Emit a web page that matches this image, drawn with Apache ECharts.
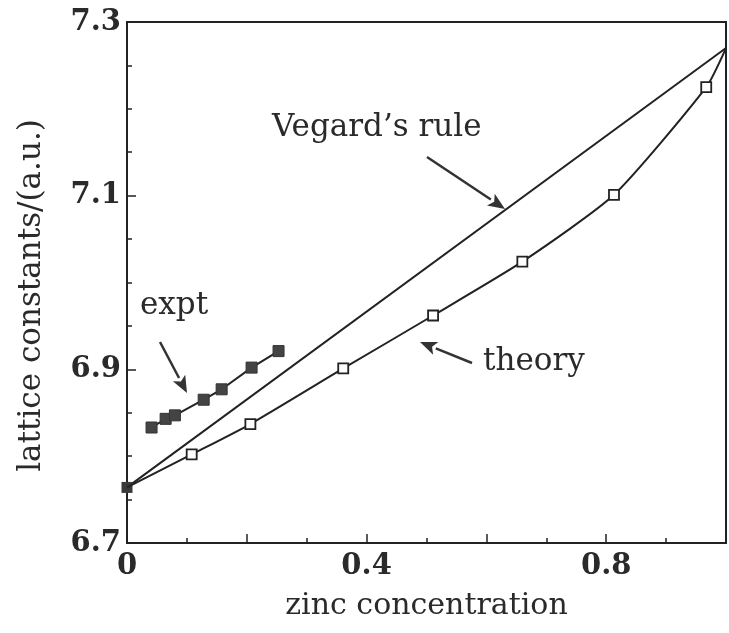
<!DOCTYPE html>
<html>
<head>
<meta charset="utf-8">
<script src="https://cdn.jsdelivr.net/npm/echarts@6/dist/echarts.min.js"></script>
<style>
  html, body { margin: 0; padding: 0; background: #fff; }
  #chart { width: 729px; height: 633px; }
</style>
</head>
<body>
<div id="chart"></div>
<script>
// data
var theoryX = [0, 0.108, 0.206, 0.361, 0.511, 0.660, 0.813, 0.967, 1.0];
var theoryY = [6.764, 6.802, 6.837, 6.901, 6.962, 7.024, 7.101, 7.225, 7.27];
var exptX = [0.041, 0.0645, 0.080, 0.128, 0.158, 0.208, 0.253];
var exptY = [6.833, 6.843, 6.847, 6.865, 6.877, 6.902, 6.921];
var vegardX = [0, 1.0];
var vegardY = [6.764, 7.27];
var yLabels = [6.7, 6.9, 7.1, 7.3];
var yMajorTicks = [6.9, 7.1];
var xLabels = [0, 0.4, 0.8];

var ink = "#222";
var serif = "DejaVu Serif";

function pairs(xs, ys) {
  return xs.map(function (x, i) { return [x, ys[i]]; });
}

// arrow for annotations: line + triangle head at tip
function arrow(x1, y1, x2, y2) {
  var dx = x2 - x1, dy = y2 - y1;
  var len = Math.sqrt(dx * dx + dy * dy);
  var ux = dx / len, uy = dy / len;
  var hl = 17, hw = 7;
  var bx = x2 - ux * hl, by = y2 - uy * hl;
  return {
    type: "group",
    children: [
      { type: "line", shape: { x1: x1, y1: y1, x2: bx, y2: by },
        style: { stroke: "#333", lineWidth: 2.5 } },
      { type: "polygon",
        shape: { points: [[x2, y2], [bx - uy * hw, by + ux * hw], [bx + ux * 4, by + uy * 4], [bx + uy * hw, by - ux * hw]] },
        style: { fill: "#333" } }
    ]
  };
}

function note(text, x, y) {
  return {
    type: "text", x: x, y: y,
    style: { text: text, font: "31px '" + serif + "'", fill: "#2a2a2a", verticalAlign: "middle" }
  };
}

var myChart = echarts.init(document.getElementById("chart"));

var vegardData = pairs(vegardX, vegardY).map(function (p, i) {
  return { value: p, symbol: i === 0 ? "rect" : "none" };
});
// end points of the theory curve carry no open square
var theoryData = pairs(theoryX, theoryY).map(function (p, i) {
  var end = i === 0 || i === theoryX.length - 1;
  return end ? { value: p, symbol: "none" } : p;
});

var option = {
  animation: false,
  grid: {
    left: 127, right: 2, top: 22, bottom: 90,
    show: true, borderColor: ink, borderWidth: 2
  },
  xAxis: {
    type: "value",
    min: 0, max: 1, interval: 0.2,
    name: "zinc concentration",
    nameLocation: "middle",
    nameGap: 48,
    nameTextStyle: { fontFamily: serif, fontSize: 30, color: "#2a2a2a" },
    axisLine: { lineStyle: { color: ink, width: 2 } },
    axisTick: { inside: true, length: 9, lineStyle: { color: ink, width: 1.5 } },
    minorTick: { show: true, splitNumber: 2, length: 5, lineStyle: { color: ink, width: 1.5 } },
    splitLine: { show: false },
    axisLabel: {
      fontFamily: serif, fontWeight: "bold", fontSize: 29, color: "#2a2a2a", margin: 9,
      formatter: function (v) {
        var r = Math.round(v * 10) / 10;
        return xLabels.indexOf(r) >= 0 ? String(r) : "";
      }
    }
  },
  yAxis: [
    {
      type: "value",
      min: 6.7, max: 7.3, interval: 0.05,
      name: "lattice constants/(a.u.)",
      nameLocation: "middle",
      nameGap: 80,
      nameTextStyle: { fontFamily: serif, fontSize: 31, color: "#2a2a2a", padding: [0, 26, 0, 0] },
      axisLine: { lineStyle: { color: ink, width: 2 } },
      axisTick: { inside: true, length: 5, lineStyle: { color: ink, width: 1.5 } },
      splitLine: { show: false },
      axisLabel: {
        customValues: yLabels,
        fontFamily: serif, fontWeight: "bold", fontSize: 29, color: "#2a2a2a", margin: 6,
        formatter: function (v) { return v.toFixed(1); }
      }
    },
    {
      // long ticks at the labelled values
      type: "value",
      position: "left",
      min: 6.7, max: 7.3, interval: 0.05,
      axisLine: { show: false },
      axisTick: { customValues: yMajorTicks, inside: true, length: 9, lineStyle: { color: ink, width: 1.5 } },
      axisLabel: { show: false },
      splitLine: { show: false }
    }
  ],
  series: [
    {
      name: "Vegard's rule",
      type: "line",
      data: vegardData,
      symbolSize: 11,
      itemStyle: { color: "#3a3a3a" },
      lineStyle: { color: ink, width: 2 },
      z: 3
    },
    {
      name: "theory",
      type: "line",
      data: theoryData,
      smooth: 0.2,
      symbol: "rect",
      symbolSize: 10,
      showAllSymbol: true,
      itemStyle: { color: "#fff", borderColor: ink, borderWidth: 1.8 },
      lineStyle: { color: ink, width: 2 },
      z: 4
    },
    {
      name: "expt",
      type: "line",
      data: pairs(exptX, exptY),
      symbol: "rect",
      symbolSize: 11,
      itemStyle: { color: "#444", borderColor: "#333", borderWidth: 1 },
      lineStyle: { color: ink, width: 2 },
      z: 5
    }
  ],
  graphic: [
    note("Vegard\u2019s rule", 272, 128),
    note("expt", 140, 306),
    note("theory", 483, 362),
    arrow(427, 157, 505, 209),
    arrow(160, 342, 187, 393),
    arrow(472, 363, 420, 342)
  ]
};

myChart.setOption(option);
window.addEventListener("resize", function () {
  myChart.resize();
});
</script>
</body>
</html>
